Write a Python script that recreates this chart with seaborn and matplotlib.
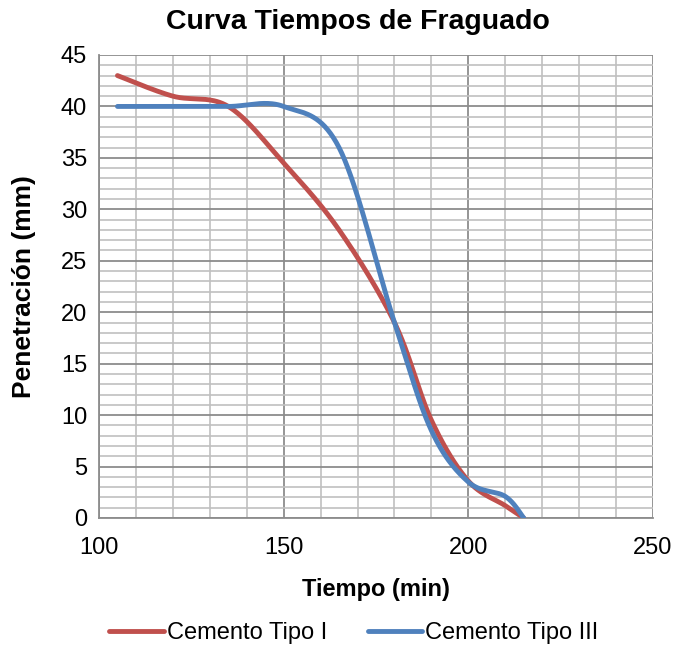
import numpy as np
import pandas as pd
import matplotlib
matplotlib.use("Agg")
import matplotlib.pyplot as plt
import seaborn as sns

# ---- data ----
tiempo_I = [105, 120, 135, 150, 165, 180, 190, 200, 210, 215]
penet_I = [43.0, 41.0, 40.0, 34.5, 28.0, 19.0, 9.5, 3.6, 1.2, 0.0]

tiempo_III = [105, 120, 135, 150, 165, 180, 190, 200, 210, 215]
penet_III = [40.0, 40.0, 40.0, 40.0, 36.0, 19.0, 8.5, 3.5, 2.1, 0.0]

series_names = ["Cemento Tipo I", "Cemento Tipo III"]
colors = ["#C0504D", "#4F81BD"]

title = "Curva Tiempos de Fraguado"
xlabel = "Tiempo (min)"
ylabel = "Penetración (mm)"
x_ticks = [100, 150, 200, 250]
y_ticks = [0, 5, 10, 15, 20, 25, 30, 35, 40, 45]


def excel_smooth(xs, ys, n=40):
    """Render a smoothed line like Excel's 'smoothed line' option (Bezier, 1/6 tension)."""
    P = np.column_stack([xs, ys]).astype(float)
    m = len(P)
    out = []
    for i in range(m - 1):
        p0 = P[max(i - 1, 0)]
        p1 = P[i]
        p2 = P[i + 1]
        p3 = P[min(i + 2, m - 1)]
        c1 = p1 + (p2 - p0) / 6.0
        c2 = p2 - (p3 - p1) / 6.0
        t = np.linspace(0, 1, n)[:, None]
        seg = ((1 - t) ** 3) * p1 + 3 * ((1 - t) ** 2) * t * c1 + 3 * (1 - t) * t ** 2 * c2 + t ** 3 * p2
        if i > 0:
            seg = seg[1:]
        out.append(seg)
    return np.vstack(out)


sns.set_style("white")
plt.rcParams["font.family"] = ["Liberation Sans", "DejaVu Sans"]
plt.rcParams["text.color"] = "black"
plt.rcParams["axes.labelcolor"] = "black"
plt.rcParams["xtick.color"] = "black"
plt.rcParams["ytick.color"] = "black"

fig = plt.figure(figsize=(6.78, 6.45), dpi=100)
ax = fig.add_axes([99 / 678, 1 - 518 / 645, (653 - 99) / 678, (518 - 55) / 645])

for name, xs, ys, c in [(series_names[0], tiempo_I, penet_I, colors[0]),
                        (series_names[1], tiempo_III, penet_III, colors[1])]:
    sm = excel_smooth(xs, ys)
    df = pd.DataFrame({"x": sm[:, 0], "y": sm[:, 1]})
    sns.lineplot(data=df, x="x", y="y", ax=ax, color=c, linewidth=3.5, sort=False,
                 estimator=None, label=name, solid_capstyle="round", zorder=5)

ax.set_xlim(100, 250)
ax.set_ylim(0, 45)
ax.set_xticks(x_ticks)
ax.set_yticks(y_ticks)
ax.set_xticks(np.arange(100, 251, 10), minor=True)
ax.set_yticks(np.arange(0, 46, 1), minor=True)

ax.grid(which="minor", color="#C0C0C0", linewidth=1.2)
ax.grid(which="major", color="#8C8C8C", linewidth=1.3)
ax.set_axisbelow(True)

for s in ["top", "right"]:
    ax.spines[s].set_visible(False)
for s in ["left", "bottom"]:
    ax.spines[s].set_color("#8C8C8C")
    ax.spines[s].set_linewidth(1.3)

ax.tick_params(axis="both", which="major", direction="out", length=4.5, width=1.2,
               color="#8C8C8C", labelsize=17, labelcolor="black")
ax.tick_params(axis="both", which="minor", length=0)
ax.tick_params(axis="x", pad=9)
ax.tick_params(axis="y", pad=4)

ax.set_xlabel(xlabel, fontsize=17, fontweight="bold", labelpad=14, color="black")
ax.set_ylabel(ylabel, fontsize=19, fontweight="bold", labelpad=18, color="black")
fig.text(358 / 678, 1 - 22 / 645, title, fontsize=20.5, fontweight="bold",
         ha="center", va="center", color="black")

leg = ax.legend(loc="center", bbox_to_anchor=(354 / 678, 1 - 633 / 645),
                bbox_transform=fig.transFigure, ncol=2, frameon=False, fontsize=17,
                handlelength=2.3, handletextpad=0.15, columnspacing=1.7,
                borderaxespad=0)
for t in leg.get_texts():
    t.set_color("black")

fig.savefig("out.png", dpi=100)
